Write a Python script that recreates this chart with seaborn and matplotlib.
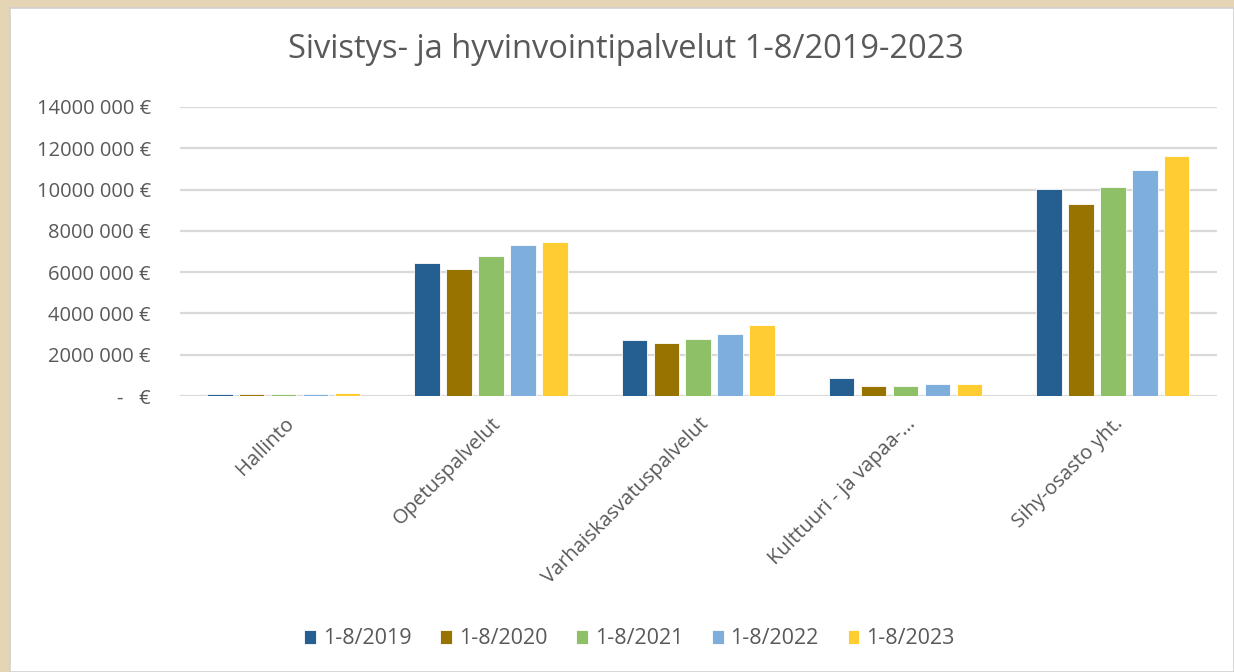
import pandas as pd
import seaborn as sns
from matplotlib import pyplot as plt
from matplotlib.patches import Rectangle

# categories and yearly totals (EUR)
categories = ["Hallinto", "Opetuspalvelut", "Varhaiskasvatuspalvelut",
              "Kulttuuri - ja vapaa-...", "Sihy-osasto yht."]
periods = ["1-8/2019", "1-8/2020", "1-8/2021", "1-8/2022", "1-8/2023"]
v2019 = [110000, 6430000, 2710000, 870000, 10020000]
v2020 = [105000, 6130000, 2580000, 500000, 9290000]
v2021 = [100000, 6800000, 2780000, 480000, 10140000]
v2022 = [100000, 7300000, 3020000, 560000, 10970000]
v2023 = [160000, 7470000, 3450000, 560000, 11650000]
yticks = [0, 2000000, 4000000, 6000000, 8000000, 10000000, 12000000, 14000000]
ytick_labels = ["-   €", "2000 000 €", "4000 000 €", "6000 000 €", "8000 000 €",
                "10000 000 €", "12000 000 €", "14000 000 €"]
colors = ["#255E91", "#997300", "#8EC068", "#7EAEDC", "#FFCC32"]

rows = []
for period, vals in zip(periods, [v2019, v2020, v2021, v2022, v2023]):
    for cat, v in zip(categories, vals):
        rows.append({"kategoria": cat, "jakso": period, "euroa": v})
df = pd.DataFrame(rows)

sns.set_style("white")
plt.rcParams["font.family"] = ["Open Sans", "DejaVu Sans"]
text_color = "#595959"

fig = plt.figure(figsize=(12.34, 6.72), dpi=100)
fig.patch.set_facecolor("#E6D5B4")
# white chart area on the beige background
fig.patches.append(Rectangle((10 / 1234, 0), 1224 / 1234, 664 / 672, transform=fig.transFigure,
                             facecolor="white", edgecolor="#D0D0D0", linewidth=1.2, zorder=-10))

ax = fig.add_axes([180 / 1234, 276 / 672, 1036.5 / 1234, 289 / 672])
ax.set_facecolor("none")
sns.barplot(data=df, x="kategoria", y="euroa", hue="jakso", hue_order=periods,
            palette=colors, saturation=1, width=0.77, gap=0.2, edgecolor="white",
            linewidth=0.6, errorbar=None, ax=ax, zorder=3)

ax.set_ylim(0, 14000000)
ax.set_xlim(-0.5, len(categories) - 0.5)
ax.set_yticks(yticks)
ax.set_yticklabels(ytick_labels)
ax.yaxis.grid(True, color="#D9D9D9", linewidth=1.6, zorder=0)
ax.set_axisbelow(True)
for side in ["top", "right", "left", "bottom"]:
    ax.spines[side].set_visible(False)
ax.tick_params(axis="y", length=0, pad=21, labelsize=14.5, labelcolor=text_color)
ax.tick_params(axis="x", length=0, pad=13, labelsize=14.5, labelcolor=text_color)
plt.setp(ax.get_xticklabels(), rotation=45, ha="right", rotation_mode="anchor")
ax.set_xlabel("")
ax.set_ylabel("")

fig.text(0.507, 622 / 672, "Sivistys- ja hyvinvointipalvelut 1-8/2019-2023",
         ha="center", va="center", fontsize=23.5, color=text_color)

handles, labels = ax.get_legend_handles_labels()
ax.get_legend().remove()
fig.legend(handles, labels, loc="center", bbox_to_anchor=(0.510, 33 / 672), ncol=5,
           frameon=False, fontsize=15.5, labelcolor=text_color, handlelength=0.55,
           handleheight=0.6, handletextpad=0.3, columnspacing=1.35)

fig.savefig("out.png", dpi=100, facecolor=fig.get_facecolor())
